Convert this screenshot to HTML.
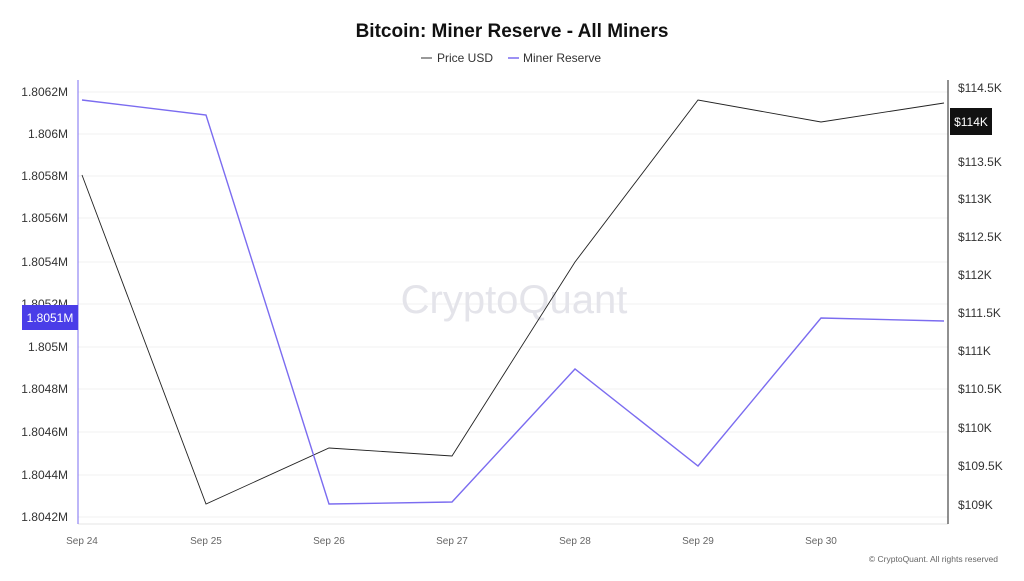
<!DOCTYPE html>
<html><head><meta charset="utf-8"><style>
body{margin:0;background:#fff;font-family:"Liberation Sans",sans-serif;}
</style></head><body>
<svg width="1024" height="576" xmlns="http://www.w3.org/2000/svg" font-family="Liberation Sans, sans-serif">
<rect width="1024" height="576" fill="#fff"/>
<text x="512" y="37" text-anchor="middle" font-size="19" font-weight="bold" fill="#111">Bitcoin: Miner Reserve - All Miners</text>
<line x1="421" y1="58" x2="432" y2="58" stroke="#333" stroke-width="1"/>
<text x="437" y="62" font-size="12" fill="#333">Price USD</text>
<line x1="508" y1="58" x2="519" y2="58" stroke="#7b6cf0" stroke-width="1.5"/>
<text x="523" y="62" font-size="12" fill="#333">Miner Reserve</text>
<g stroke="#f2f2f2" stroke-width="1">
<line x1="78" y1="92" x2="948" y2="92"/><line x1="78" y1="134" x2="948" y2="134"/><line x1="78" y1="176" x2="948" y2="176"/><line x1="78" y1="218" x2="948" y2="218"/><line x1="78" y1="262" x2="948" y2="262"/><line x1="78" y1="304" x2="948" y2="304"/><line x1="78" y1="347" x2="948" y2="347"/><line x1="78" y1="389" x2="948" y2="389"/><line x1="78" y1="432" x2="948" y2="432"/><line x1="78" y1="475" x2="948" y2="475"/><line x1="78" y1="517" x2="948" y2="517"/>
</g>
<line x1="78" y1="524" x2="948" y2="524" stroke="#e6e6e6"/>
<line x1="78" y1="80" x2="78" y2="524" stroke="#7b6cf0" stroke-width="1"/>
<line x1="948" y1="80" x2="948" y2="524" stroke="#222" stroke-width="1"/>
<g font-size="12" fill="#333" text-anchor="end">
<text x="68" y="96">1.8062M</text><text x="68" y="138">1.806M</text><text x="68" y="180">1.8058M</text><text x="68" y="222">1.8056M</text><text x="68" y="266">1.8054M</text><text x="68" y="308">1.8052M</text><text x="68" y="351">1.805M</text><text x="68" y="393">1.8048M</text><text x="68" y="436">1.8046M</text><text x="68" y="479">1.8044M</text><text x="68" y="521">1.8042M</text>
</g>
<g font-size="12" fill="#333">
<text x="958" y="92">$114.5K</text><text x="958" y="166">$113.5K</text><text x="958" y="203">$113K</text><text x="958" y="241">$112.5K</text><text x="958" y="279">$112K</text><text x="958" y="317">$111.5K</text><text x="958" y="355">$111K</text><text x="958" y="393">$110.5K</text><text x="958" y="432">$110K</text><text x="958" y="470">$109.5K</text><text x="958" y="509">$109K</text>
</g>
<g font-size="10" fill="#666" text-anchor="middle">
<text x="82" y="544">Sep 24</text><text x="206" y="544">Sep 25</text><text x="329" y="544">Sep 26</text><text x="452" y="544">Sep 27</text><text x="575" y="544">Sep 28</text><text x="698" y="544">Sep 29</text><text x="821" y="544">Sep 30</text>
</g>
<text x="998" y="562" font-size="8.5" fill="#666" text-anchor="end">© CryptoQuant. All rights reserved</text>
<text x="514" y="313" font-size="40" fill="#e4e4ea" text-anchor="middle">CryptoQuant</text>
<polyline fill="none" stroke="#222" stroke-width="0.9" points="82,175 206,504 329,448 452,456 575,262 698,100 821,122 944,103"/>
<polyline fill="none" stroke="#7b6cf0" stroke-width="1.4" points="82,100 206,115 329,504 452,502 575,369 698,466 821,318 944,321"/>
<rect x="22" y="305" width="56" height="25" fill="#4a3de8"/>
<text x="50" y="322" font-size="12" fill="#fff" text-anchor="middle">1.8051M</text>
<rect x="950" y="108" width="42" height="27" fill="#111"/>
<text x="971" y="126" font-size="12" fill="#fff" text-anchor="middle">$114K</text>
</svg>
</body></html>
